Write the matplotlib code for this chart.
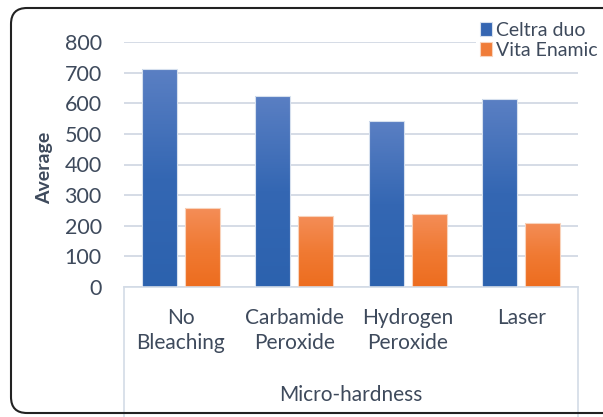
import matplotlib
matplotlib.use('Agg')
import matplotlib.pyplot as plt
import numpy as np
from matplotlib.colors import LinearSegmentedColormap
from matplotlib.patches import FancyBboxPatch
from matplotlib.transforms import IdentityTransform

categories = ['No\nBleaching', 'Carbamide\nPeroxide', 'Hydrogen\nPeroxide', 'Laser']
celtra = [711, 625, 542, 613]
vita = [257, 231, 238, 210]
series_names = ['Celtra duo', 'Vita Enamic']
yticks = [0, 100, 200, 300, 400, 500, 600, 700, 800]

txt = '#3E4A5C'
plt.rcParams['font.family'] = ['Lato', 'DejaVu Sans']

fig = plt.figure(figsize=(6.03, 4.17), dpi=100)
ax = fig.add_axes([124/603, 1-287/417, 454/603, 245/417])

x = np.arange(len(categories))
w = 0.308
off = 0.19

blue_cm = LinearSegmentedColormap.from_list('b', ['#2C62AE', '#3467B3', '#5A7FC3'])
orng_cm = LinearSegmentedColormap.from_list('o', ['#ED6D1F', '#F07A33', '#F48D57'])
grad = np.linspace(0, 1, 100).reshape(-1, 1)

b1 = ax.bar(x - off, celtra, w, facecolor='none', edgecolor='#D6E0EE', lw=0.8, zorder=3)
b2 = ax.bar(x + off, vita, w, facecolor='none', edgecolor='#F8D3BC', lw=0.8, zorder=3)

for bars, cm in ((b1, blue_cm), (b2, orng_cm)):
    for b in bars:
        x0, y0, bw, bh = b.get_x(), b.get_y(), b.get_width(), b.get_height()
        im = ax.imshow(grad, extent=[x0, x0+bw, y0, y0+bh], origin='lower',
                       aspect='auto', cmap=cm, zorder=2)
        im.set_clip_path(b)

ax.set_xlim(-0.5, len(categories) - 0.5)
ax.set_ylim(0, 800)
ax.set_yticks(yticks)
ax.yaxis.grid(True, color='#D5DCE6', lw=1.4)
ax.set_axisbelow(True)
for s in ['top', 'right', 'left']:
    ax.spines[s].set_visible(False)
ax.spines['bottom'].set_color('#D3DBE6')
ax.spines['bottom'].set_linewidth(1.2)
ax.tick_params(axis='y', length=0, pad=16, labelsize=15.5, labelcolor=txt)
ax.set_xticks(x)
ax.set_xticklabels(categories, linespacing=1.3)
ax.tick_params(axis='x', length=0, pad=15, labelsize=15, labelcolor=txt)

# box around the category axis
for xe in (0, 1):
    ax.plot([xe, xe], [0, -0.6], transform=ax.transAxes, color='#D3DBE6',
            lw=1.2, clip_on=False)

fig.text(ax.get_position().x0 + ax.get_position().width/2, 1-395/417,
         'Micro-hardness', ha='center', va='center', fontsize=15, color=txt)
fig.text(45/603, 1-168/417, 'Average', rotation=90, ha='center', va='center',
         fontsize=14, fontweight='bold', color=txt)

leg = ax.legend([b1, b2], series_names, loc='upper left',
                bbox_to_anchor=(476/603, 1-18/417), bbox_transform=fig.transFigure,
                fontsize=14, frameon=True, handlelength=0.6, handleheight=0.7,
                handletextpad=0.25, labelspacing=0.15, borderpad=0.2,
                borderaxespad=0)
leg.get_frame().set_edgecolor('none')
leg.get_frame().set_facecolor('white')
leg.get_frame().set_alpha(1)
leg.legend_handles[0].set_facecolor('#3566B2')
leg.legend_handles[1].set_facecolor('#F07C38')
for t in leg.get_texts():
    t.set_color(txt)

border = FancyBboxPatch((11, 417-413), 640, 405, boxstyle='round,pad=0,rounding_size=16',
                        transform=IdentityTransform(), facecolor='none',
                        edgecolor='#222222', lw=1.5)
fig.patches.append(border)

fig.savefig('out.png', dpi=100)
